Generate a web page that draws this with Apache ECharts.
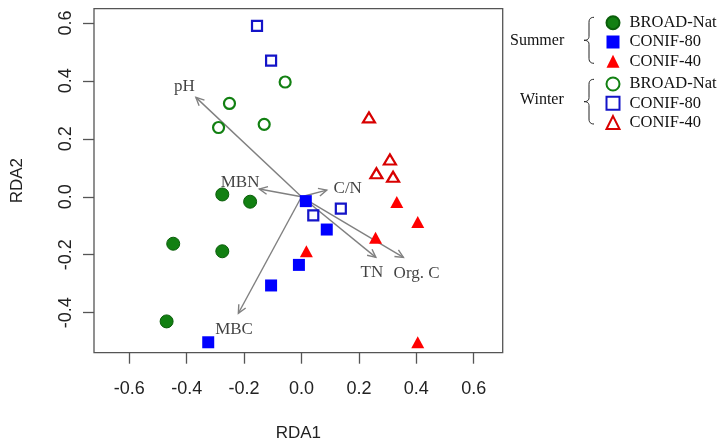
<!DOCTYPE html>
<html>
<head>
<meta charset="utf-8">
<script src="https://cdn.jsdelivr.net/npm/echarts@6/dist/echarts.min.js"></script>
<style>html,body{margin:0;padding:0;background:#fff}#c{width:720px;height:442px}</style>
</head>
<body>
<div id="c"></div>
<script>
// ---- data ----
const xTicks = [-0.6, -0.4, -0.2, 0.0, 0.2, 0.4, 0.6];
const yTicks = [-0.4, -0.2, 0.0, 0.2, 0.4, 0.6];

const summerBroadX = [-0.276, -0.179, -0.447, -0.276, -0.470];
const summerBroadY = [0.008, -0.017, -0.162, -0.188, -0.430];
const summerConif80X = [0.015, 0.088, -0.009, -0.106, -0.325];
const summerConif80Y = [-0.015, -0.113, -0.235, -0.306, -0.502];
const summerConif40X = [0.332, 0.405, 0.258, 0.017, 0.405];
const summerConif40Y = [-0.018, -0.087, -0.141, -0.188, -0.502];

const winterBroadX = [-0.251, -0.289, -0.130, -0.057];
const winterBroadY = [0.322, 0.239, 0.250, 0.396];
const winterConif80X = [-0.155, -0.106, 0.041, 0.137];
const winterConif80Y = [0.590, 0.470, -0.064, -0.041];
const winterConif40X = [0.235, 0.308, 0.261, 0.319];
const winterConif40Y = [0.274, 0.129, 0.081, 0.069];

const vectorNames = ['pH', 'MBN', 'C/N', 'TN', 'Org. C', 'MBC'];
const vectorX = [-0.368, -0.147, 0.088, 0.259, 0.355, -0.220];
const vectorY = [0.343, 0.027, 0.023, -0.209, -0.209, -0.402];
const vectorLabelX = [-0.408, -0.214, 0.161, 0.245, 0.401, -0.235];
const vectorLabelY = [0.382, 0.050, 0.029, -0.262, -0.264, -0.457];

const groupNames = ['BROAD-Nat', 'CONIF-80', 'CONIF-40'];

// ---- build chart ----
const zip = (xs, ys) => xs.map((x, i) => [x, ys[i]]);
const serif = 'Liberation Serif';
const sans = 'Liberation Sans';
const green = '#128012', blue = '#0000ff', red = '#ff0000';

function sc(name, data, symbol, size, style) {
  style.opacity = 1;
  return { type: 'scatter', name: name, data: data, symbol: symbol, symbolSize: size,
    itemStyle: style, emphasis: { disabled: true }, z: 3 };
}

const series = [
  sc('S|' + groupNames[0], zip(summerBroadX, summerBroadY), 'circle', 13, { color: green, borderColor: '#0a5e0a', borderWidth: 1 }),
  sc('S|' + groupNames[1], zip(summerConif80X, summerConif80Y), 'rect', 12, { color: blue }),
  sc('S|' + groupNames[2], zip(summerConif40X, summerConif40Y), 'triangle', [13, 12], { color: red }),
  sc('W|' + groupNames[0], zip(winterBroadX, winterBroadY), 'circle', 11, { color: '#fff', borderColor: green, borderWidth: 2.2 }),
  sc('W|' + groupNames[1], zip(winterConif80X, winterConif80Y), 'rect', 10, { color: '#fff', borderColor: '#1414c8', borderWidth: 2.2 }),
  sc('W|' + groupNames[2], zip(winterConif40X, winterConif40Y), 'triangle', [12, 10], { color: '#fff', borderColor: '#d80000', borderWidth: 2.2 }),
  {
    type: 'custom', name: 'vectors', z: 2, silent: true,
    data: vectorX.map((x, i) => [0, 0, x, vectorY[i]]),
    renderItem: function (params, api) {
      const p0 = api.coord([api.value(0), api.value(1)]);
      const p1 = api.coord([api.value(2), api.value(3)]);
      const ang = Math.atan2(p1[1] - p0[1], p1[0] - p0[0]);
      const L = 9, a = Math.PI / 7;
      const h1 = [p1[0] - L * Math.cos(ang - a), p1[1] - L * Math.sin(ang - a)];
      const h2 = [p1[0] - L * Math.cos(ang + a), p1[1] - L * Math.sin(ang + a)];
      const st = { stroke: '#808080', lineWidth: 1.4, fill: null };
      return { type: 'group', children: [
        { type: 'line', shape: { x1: p0[0], y1: p0[1], x2: p1[0], y2: p1[1] }, style: st },
        { type: 'polyline', shape: { points: [h1, p1, h2] }, style: st }
      ]};
    }
  },
  {
    type: 'scatter', name: 'vectorLabels', symbolSize: 0, silent: true, z: 4,
    data: vectorLabelX.map((x, i) => ({ value: [x, vectorLabelY[i]], name: vectorNames[i] })),
    label: { show: true, position: 'inside', formatter: p => p.name, color: '#111',
      fontFamily: serif, fontSize: 17 }
  }
];

function legendFor(prefix, top) {
  return {
    orient: 'vertical', left: 605.5, top: top, itemGap: 2.3, itemWidth: 13, itemHeight: 13,
    padding: 0, selectedMode: false,
    data: groupNames.map(g => prefix + '|' + g),
    formatter: n => n.split('|')[1],
    textStyle: { fontFamily: serif, fontSize: 16.5, color: '#111', padding: [0, 0, 0, 5] }
  };
}

function quad(p0, c, p1, n) {
  const pts = [];
  for (let i = 0; i <= n; i++) {
    const t = i / n, u = 1 - t;
    pts.push([u * u * p0[0] + 2 * u * t * c[0] + t * t * p1[0], u * u * p0[1] + 2 * u * t * c[1] + t * t * p1[1]]);
  }
  return pts;
}
function brace(top, bottom) {
  const mid = (top + bottom) / 2, xr = 594, xm = 589, xt = 584;
  const pts = [].concat(
    quad([xr, top], [xm, top], [xm, top + 5], 6),
    quad([xm, mid - 4], [xm, mid], [xt, mid], 6),
    quad([xt, mid], [xm, mid], [xm, mid + 4], 6),
    quad([xm, bottom - 5], [xm, bottom], [xr, bottom], 6)
  );
  return { type: 'polyline', silent: true, shape: { points: pts }, style: { stroke: '#222', lineWidth: 1, fill: null } };
}

const chart = echarts.init(document.getElementById('c'));
chart.setOption({
  animation: false,
  backgroundColor: '#fff',
  grid: { left: 94, right: 217.3, top: 8.7, bottom: 89.3, show: true, borderColor: '#555', borderWidth: 1.3,
    containLabel: false, outerBoundsMode: 'none' },
  xAxis: {
    type: 'value', min: -0.723, max: 0.701,
    name: 'RDA1', nameLocation: 'middle', nameGap: 72,
    nameTextStyle: { fontFamily: sans, fontSize: 17, color: '#222' },
    axisLine: { show: false, onZero: false },
    splitLine: { show: false },
    axisTick: { show: true, length: 11, inside: false, customValues: xTicks, lineStyle: { color: '#555', width: 1.3 } },
    axisLabel: { customValues: xTicks, margin: 27, fontFamily: sans, fontSize: 18, color: '#222',
      formatter: v => v.toFixed(1) }
  },
  yAxis: {
    type: 'value', min: -0.538, max: 0.649,
    name: 'RDA2', nameLocation: 'middle', nameGap: 68, nameRotate: 90,
    nameTextStyle: { fontFamily: sans, fontSize: 17, color: '#222' },
    axisLine: { show: false, onZero: false },
    splitLine: { show: false },
    axisTick: { show: true, length: 11, inside: false, customValues: yTicks, lineStyle: { color: '#555', width: 1.3 } },
    axisLabel: { customValues: yTicks, margin: 19, rotate: 90, fontFamily: sans, fontSize: 18, color: '#222',
      formatter: v => v.toFixed(1) }
  },
  legend: [legendFor('S', 14.2), legendFor('W', 75.5)],
  graphic: [
    brace(17.3, 63.3),
    brace(79.3, 124),
    { type: 'text', left: 510, top: 33, silent: true, style: { text: 'Summer', fontFamily: serif, fontSize: 16, fill: '#111' } },
    { type: 'text', left: 520, top: 92, silent: true, style: { text: 'Winter', fontFamily: serif, fontSize: 16, fill: '#111' } }
  ],
  series: series
});
</script>
</body>
</html>
